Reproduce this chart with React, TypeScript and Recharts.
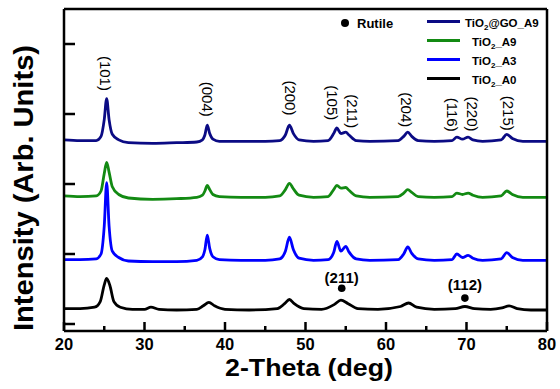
import {
  LineChart,
  Line,
  XAxis,
  YAxis,
  ReferenceDot,
  Legend,
  Label,
} from "recharts";

// 2-theta grid shared by the anatase samples
const THETA = [
  20, 22, 24, 24.6, 25.0, 25.3, 25.6, 26.0, 26.8, 28, 31, 34, 36.5, 37.2, 37.5,
  37.8, 38.1, 38.5, 39.3, 42, 45, 46.8, 47.5, 48.0, 48.5, 49.2, 51, 52.8, 53.5,
  53.9, 54.4, 55.0, 55.4, 56.3, 58, 61.5, 62.2, 62.7, 63.2, 64, 66, 68.2, 68.8,
  69.5, 70.2, 70.8, 72, 74.3, 75.0, 75.7, 77, 80,
];

const GO_A9 = [
  263, 262, 262, 268, 292, 322, 292, 271, 263, 259, 258, 259, 260, 263, 270,
  284, 272, 264, 261, 261, 261, 262, 270, 284, 272, 263, 261, 262, 272, 280,
  272, 274, 270, 262, 261, 262, 268, 274, 268, 262, 261, 262, 267, 264, 267,
  263, 261, 263, 271, 265, 261, 261,
];

const A9 = [
  183, 182, 183, 190, 215, 231, 217, 196, 185, 180, 178, 179, 181, 184, 190,
  198, 192, 185, 182, 181, 181, 183, 192, 201, 193, 184, 181, 182, 192, 198,
  194, 195, 191, 183, 181, 182, 187, 192, 188, 182, 181, 182, 187, 185, 187,
  184, 181, 183, 190, 185, 181, 181,
];

const A3 = [
  92, 92, 93, 100, 140, 202, 140, 104, 95, 90, 89, 89, 91, 96, 106, 127, 108,
  96, 92, 91, 91, 93, 104, 124, 106, 94, 91, 92, 102, 118, 104, 111, 103, 93,
  91, 92, 100, 110, 101, 93, 91, 92, 100, 95, 98, 94, 91, 93, 102, 95, 91, 91,
];

// the untreated sample has its own grid (rutile peaks)
const THETA_A0 = [
  20, 22, 23.8, 24.5, 25.0, 25.3, 25.7, 26.2, 27, 28.5, 30, 30.8, 31.8, 34,
  36.5, 37.3, 38.0, 38.7, 40, 43, 46.5, 47.4, 48.0, 48.6, 49.8, 52, 53.6, 54.4,
  55.3, 56.5, 59, 61.8, 62.8, 63.8, 66, 68.6, 69.8, 71, 73, 74.4, 75.3, 76.3,
  78, 80,
];

const A0 = [
  22, 22, 24, 32, 56, 65, 55, 32, 24, 21, 21, 24, 21, 20, 21, 26, 31, 26, 21,
  20, 22, 29, 35, 29, 22, 21, 28, 34, 29, 22, 21, 25, 30, 24, 21, 22, 25, 22,
  21, 23, 26, 22, 20, 20,
];

const X_TICKS = [20, 25, 30, 35, 40, 45, 50, 55, 60, 65, 70, 75, 80];
const Y_TICKS = [0, 100, 200, 300, 400];

const PEAK_LABELS = [
  { theta: 25.2, y: 358, text: "(101)" },
  { theta: 37.8, y: 321, text: "(004)" },
  { theta: 48.1, y: 323, text: "(200)" },
  { theta: 53.4, y: 316, text: "(105)" },
  { theta: 55.8, y: 304, text: "(211)" },
  { theta: 62.6, y: 306, text: "(204)" },
  { theta: 68.3, y: 299, text: "(116)" },
  { theta: 70.8, y: 300, text: "(220)" },
  { theta: 75.2, y: 301, text: "(215)" },
];

const RUTILE = [
  { theta: 54.5, dot: 51, label: 67, text: "(211)" },
  { theta: 69.8, dot: 37, label: 56, text: "(112)" },
];

const SERIES = [
  { name: "GO_A9", label: "@GO_A9", color: "#0b0b84", x: THETA, y: GO_A9 },
  { name: "A9", label: "_A9", color: "#138a13", x: THETA, y: A9 },
  { name: "A3", label: "_A3", color: "#0000ff", x: THETA, y: A3 },
  { name: "A0", label: "_A0", color: "#000000", x: THETA_A0, y: A0 },
];

const FONT = "'Liberation Sans', Arial, sans-serif";

function XTick(props: any) {
  const { x, y, payload } = props;
  const major = payload.value % 10 === 0;
  return (
    <g>
      <line x1={x} x2={x} y1={y} y2={y - (major ? 9 : 5)} stroke="#000" strokeWidth={2.5} />
      {major && (
        <text x={x} y={y + 19} textAnchor="middle" fontFamily={FONT} fontWeight="bold" fontSize={16.5} fill="#000">
          {payload.value}
        </text>
      )}
    </g>
  );
}

function YTick(props: any) {
  const { x, y } = props;
  return <line x1={x} x2={x + 11} y1={y} y2={y} stroke="#000" strokeWidth={2.5} />;
}

function renderLegend() {
  return (
    <div style={{ position: "relative", width: 560, height: 100, fontFamily: FONT, fontWeight: "bold", color: "#000" }}>
      <div style={{ position: "absolute", left: 341, top: 16, fontSize: 13, lineHeight: "16px" }}>
        <span style={{ display: "inline-block", width: 8, height: 8, borderRadius: 4, background: "#000", marginRight: 8, verticalAlign: 1 }} />
        Rutile
      </div>
      {SERIES.map((s, i) => (
        <div key={s.name} style={{ position: "absolute", left: 427, top: 15 + i * 19, fontSize: 11.5, lineHeight: "16px", whiteSpace: "nowrap" }}>
          <span style={{ display: "inline-block", width: 33, height: 3, background: s.color, verticalAlign: 4, marginRight: i === 0 ? 5 : 12 }} />
          TiO<span style={{ fontSize: 8, verticalAlign: -3 }}>2</span>
          {s.label}
        </div>
      ))}
    </div>
  );
}

export default function App() {
  const rows = SERIES.map((s) => s.x.map((t, i) => ({ x: t, y: s.y[i] })));

  return (
    <div style={{ position: "absolute", left: 0, top: 0 }}>
      <LineChart width={560} height={389} margin={{ top: 8, right: 12, bottom: 57, left: 63 }}>
        <XAxis
          dataKey="x"
          type="number"
          domain={[20, 80]}
          ticks={X_TICKS}
          interval={0}
          height={1}
          tickSize={0}
          tickMargin={0}
          tickLine={false}
          tick={<XTick />}
          axisLine={{ stroke: "#000", strokeWidth: 2.5 }}
        >
          <Label
            content={() => (
              <text x={309} y={376} textAnchor="middle" textLength={168} lengthAdjust="spacingAndGlyphs" fontFamily={FONT} fontWeight="bold" fontSize={24} fill="#000">
                2-Theta (deg)
              </text>
            )}
          />
        </XAxis>
        <XAxis xAxisId="top" orientation="top" type="number" domain={[20, 80]} ticks={[20, 80]} height={1} tick={false} tickLine={false} axisLine={{ stroke: "#000", strokeWidth: 2.5 }} />
        <YAxis
          type="number"
          domain={[-10, 450]}
          ticks={Y_TICKS}
          interval={0}
          width={1}
          tickSize={0}
          tickMargin={0}
          tickLine={false}
          tick={<YTick />}
          axisLine={{ stroke: "#000", strokeWidth: 2.5 }}
        >
          <Label
            content={() => (
              <text x={33} y={188} transform="rotate(-90 33 188)" textAnchor="middle" textLength={286} lengthAdjust="spacingAndGlyphs" fontFamily={FONT} fontWeight="bold" fontSize={27} fill="#000">
                Intensity (Arb. Units)
              </text>
            )}
          />
        </YAxis>
        <YAxis yAxisId="right" orientation="right" type="number" domain={[0, 1]} ticks={[0, 1]} width={1} tick={false} tickLine={false} axisLine={{ stroke: "#000", strokeWidth: 2.5 }} />
        <Legend layout="horizontal" verticalAlign="middle" align="center" content={renderLegend} wrapperStyle={{ position: "absolute", left: 0, top: 0, width: 560, height: 100 }} />

        {SERIES.slice().reverse().map((s) => (
          <Line
            key={s.name}
            data={rows[SERIES.indexOf(s)]}
            dataKey="y"
            name={s.name}
            type="monotone"
            stroke={s.color}
            strokeWidth={2.8}
            dot={false}
            isAnimationActive={false}
          />
        ))}

        {PEAK_LABELS.map((p) => (
          <ReferenceDot
            key={p.text + p.theta}
            x={p.theta}
            y={p.y}
            r={0}
            shape={(sp: any) => (
              <text
                x={sp.cx}
                y={sp.cy}
                transform={`rotate(90 ${sp.cx} ${sp.cy})`}
                textAnchor="middle"
                dominantBaseline="central"
                fontFamily={FONT}
                fontSize={15}
                fill="#000"
              >
                {p.text}
              </text>
            )}
          />
        ))}

        {RUTILE.map((r) => (
          <ReferenceDot key={"d" + r.text} x={r.theta} y={r.dot} r={3.8} fill="#000" stroke="none" />
        ))}
        {RUTILE.map((r) => (
          <ReferenceDot
            key={"l" + r.text}
            x={r.theta}
            y={r.label}
            r={0}
            shape={(sp: any) => (
              <text x={sp.cx} y={sp.cy} textAnchor="middle" dominantBaseline="central" fontFamily={FONT} fontWeight="bold" fontSize={15} fill="#000">
                {r.text}
              </text>
            )}
          />
        ))}
      </LineChart>
    </div>
  );
}
